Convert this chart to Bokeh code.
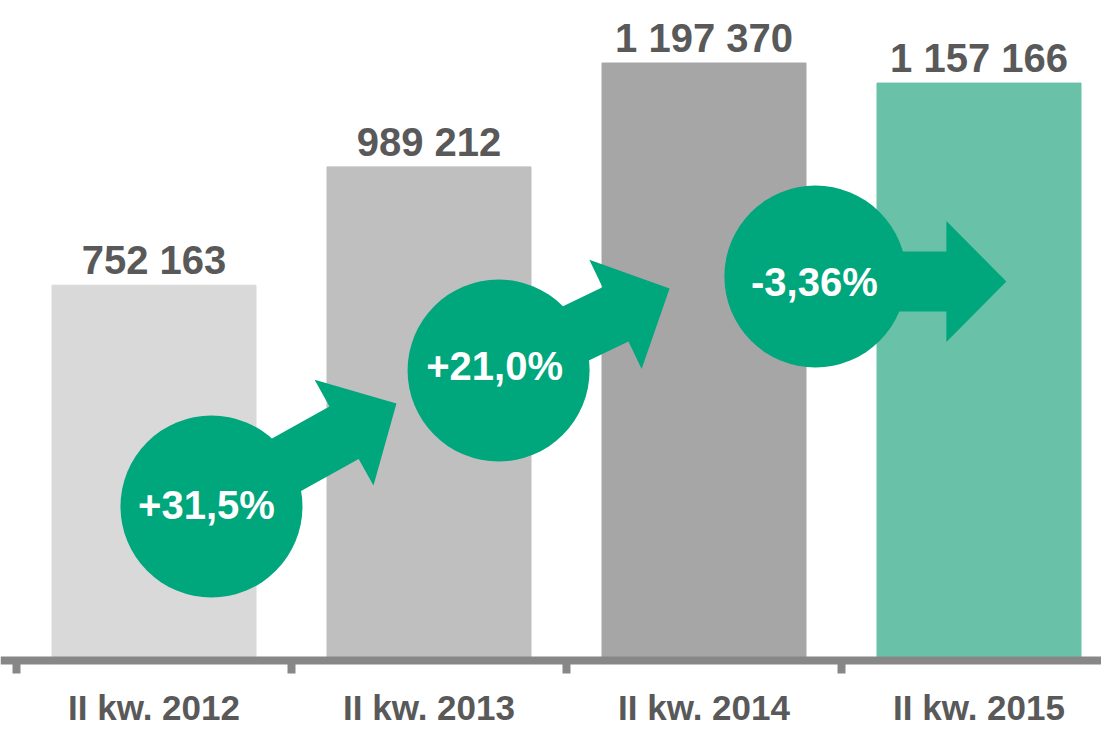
import math
from bokeh.plotting import figure
from bokeh.models import ColumnDataSource, Range1d, FixedTicker
from bokeh.core.properties import value
from bokeh.embed import file_html
from bokeh.resources import INLINE

# ---------------- data ----------------
categories = ["II kw. 2012", "II kw. 2013", "II kw. 2014", "II kw. 2015"]
values = [752163, 989212, 1197370, 1157166]
change_labels = ["+31,5%", "+21,0%", "-3,36%"]

# ---------------- style / layout ----------------
FONT = "Liberation Sans"
TEXT_GRAY = "#595959"
AXIS_GRAY = "#878787"
GREEN = "#00A67C"
bar_colors = ["#D9D9D9", "#BFBFBF", "#A6A6A6", "#69C2A8"]

W, H = 1101, 731
PX_X = 275.0            # pixels per category
UPP = 2004.0            # value units per pixel (vertical)
AXIS_PX = 660.0         # axis line position from top of canvas
LEFT_PX = 16.0          # category 0 boundary from left of canvas

x_start = -LEFT_PX / PX_X
x_end = (W - LEFT_PX) / PX_X
y_end = AXIS_PX * UPP
y_start = -(H - AXIS_PX) * UPP

p = figure(width=W, height=H, output_backend="svg", toolbar_location=None,
           x_range=Range1d(x_start, x_end), y_range=Range1d(y_start, y_end),
           y_axis_location=None, min_border=0)
p.outline_line_color = None
p.xgrid.visible = False
p.ygrid.visible = False
p.background_fill_color = "white"
p.border_fill_color = "white"

centers = [i + 0.5 for i in range(len(categories))]
thousands = [f"{v:,}".replace(",", " ") for v in values]
src = ColumnDataSource(dict(x=centers, top=values, color=bar_colors, label=thousands))

p.vbar(x="x", top="top", bottom=0, width=204 / PX_X, color="color", source=src)

p.text(x="x", y="top", text="label", source=src, text_align="center",
       text_baseline="alphabetic", y_offset=-25, text_font=value(FONT),
       text_font_style="bold", text_font_size="40px", text_color=TEXT_GRAY)

# axis
ax = p.xaxis[0]
ax.fixed_location = 0
ax.ticker = FixedTicker(ticks=centers, minor_ticks=list(range(len(categories) + 1)))
ax.major_label_overrides = {c: lab for c, lab in zip(centers, categories)}
ax.axis_line_color = AXIS_GRAY
ax.axis_line_width = 8
ax.major_tick_line_color = None
ax.major_tick_in = 0
ax.major_tick_out = 0
ax.minor_tick_line_color = AXIS_GRAY
ax.minor_tick_line_width = 8
ax.minor_tick_in = 0
ax.minor_tick_out = 13
ax.major_label_standoff = 14
ax.major_label_text_font = FONT
ax.major_label_text_font_style = "bold"
ax.major_label_text_font_size = "35px"
ax.major_label_text_color = TEXT_GRAY

# change markers: circle centres (category units, value units), arrow geometry in px
circle_x = [0.709, 1.753, 2.905]
circle_y = [308600, 581200, 769500]
arrow_start = [(0, 0), (0, 0), (0, 5)]
arrow_tip = [(185, -103), (171, -82), (191, 5)]
label_off = [(-5, -2), (-4, -4), (-1, 5)]
SHAFT_HALF = 30
HEAD_LEN = 60
HEAD_HALF = 60.5

xs, ys = [], []
for cx, cy, (sx, sy), (tx, ty) in zip(circle_x, circle_y, arrow_start, arrow_tip):
    dx, dy = tx - sx, ty - sy
    L = math.hypot(dx, dy)
    ux, uy = dx / L, dy / L
    nx, ny = -uy, ux
    bx, by = tx - HEAD_LEN * ux, ty - HEAD_LEN * uy
    pts = [(sx + SHAFT_HALF * nx, sy + SHAFT_HALF * ny),
           (bx + SHAFT_HALF * nx, by + SHAFT_HALF * ny),
           (bx + HEAD_HALF * nx, by + HEAD_HALF * ny),
           (tx, ty),
           (bx - HEAD_HALF * nx, by - HEAD_HALF * ny),
           (bx - SHAFT_HALF * nx, by - SHAFT_HALF * ny),
           (sx - SHAFT_HALF * nx, sy - SHAFT_HALF * ny)]
    xs.append([cx + px / PX_X for px, _ in pts])
    ys.append([cy - py * UPP for _, py in pts])

p.patches(xs=xs, ys=ys, fill_color=GREEN, line_color=None)
p.scatter(x=circle_x, y=circle_y, marker="circle", size=182, fill_color=GREEN, line_color=None)

lsrc = ColumnDataSource(dict(x=circle_x, y=circle_y, text=change_labels,
                             xo=[o[0] for o in label_off], yo=[o[1] for o in label_off]))
p.text(x="x", y="y", text="text", source=lsrc, x_offset="xo", y_offset="yo",
       text_align="center", text_baseline="middle", text_font=value(FONT),
       text_font_style="bold", text_font_size="40px", text_color="white")

open("out.html", "w").write(file_html(p, INLINE))
